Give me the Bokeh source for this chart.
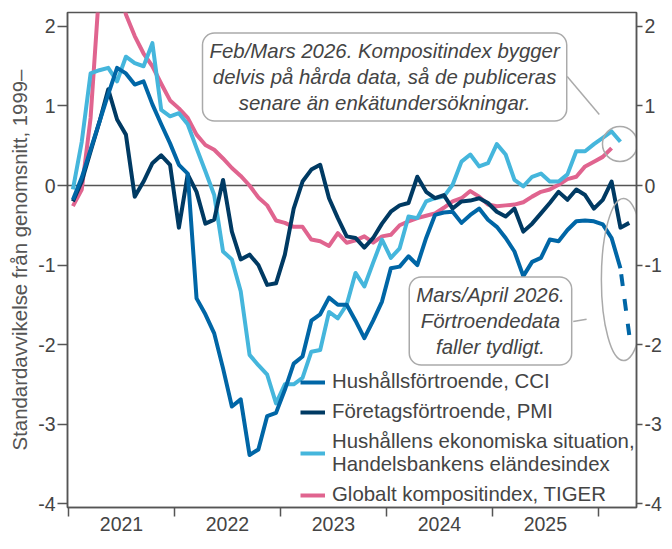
import pandas as pd
from bokeh.plotting import figure
from bokeh.models import (LinearAxis, FixedTicker, Span, Label, Legend,
                          LegendItem, Range1d)
from bokeh.embed import file_html
from bokeh.resources import INLINE

# ---------------- data ----------------
months = pd.date_range("2021-01-01", periods=64, freq="MS")

cci = [-0.18, 0.10, 0.45, 0.80, 1.15, 1.48, 1.41, 1.27, 1.31, 1.02, 0.77, 0.53,
       0.26, 0.15, -1.42, -1.62, -1.86, -2.30, -2.78, -2.69, -3.39, -3.32, -2.90, -2.86,
       -2.57, -2.24, -2.15, -1.70, -1.62, -1.41, -1.50, -1.50, -1.70, -1.92, -1.70, -1.46,
       -1.04, -1.02, -0.89, -1.00, -0.66, -0.37, -0.34, -0.33, -0.47, -0.37, -0.29, -0.43,
       -0.52, -0.66, -0.83, -1.14, -0.96, -0.91, -0.68, -0.70, -0.56, -0.45, -0.44, -0.45,
       -0.49, -0.66, -1.04, -1.88]

pmi = [-0.20, 0.05, 0.43, 0.80, 1.21, 0.83, 0.64, -0.14, 0.05, 0.28, 0.38, 0.26,
       -0.53, 0.14, -0.08, -0.48, -0.43, 0.07, -0.58, -0.93, -0.87, -1.00, -1.25, -1.23,
       -0.87, -0.29, 0.05, 0.20, 0.26, -0.16, -0.41, -0.64, -0.66, -0.78, -0.66, -0.48,
       -0.33, -0.25, -0.22, 0.11, -0.08, -0.16, -0.12, -0.29, -0.20, -0.19, -0.16, -0.22,
       -0.33, -0.39, -0.29, -0.58, -0.48, -0.35, -0.22, -0.08, -0.18, -0.05, -0.12, -0.29,
       -0.18, 0.05, -0.53, -0.47]

hh_misery = [-0.05, 0.55, 1.41, 1.45, 1.48, 1.31, 1.62, 1.54, 1.50, 1.79, 0.95, 0.87,
             0.91, 0.77, 0.47, 0.18, -0.12, -0.83, -0.93, -1.33, -2.13, -2.26, -2.38, -2.74,
             -2.50, -2.50, -2.42, -2.09, -2.07, -1.59, -1.67, -1.50, -1.10, -1.27, -0.97, -0.68,
             -0.91, -0.79, -0.39, -0.41, -0.20, -0.16, -0.14, 0.01, 0.30, 0.39, 0.24, 0.28,
             0.52, 0.39, 0.07, -0.01, 0.11, 0.15, 0.05, 0.05, 0.14, 0.43, 0.43, 0.52,
             0.60, 0.68, 0.55]

tiger = [-0.26, -0.05, 0.85, 2.50, 3.00, 2.70, 2.15, 1.88, 1.66, 1.50, 1.28, 1.07,
         0.97, 0.85, 0.64, 0.51, 0.45, 0.34, 0.22, 0.12, 0.00, -0.15, -0.25, -0.44,
         -0.47, -0.52, -0.52, -0.68, -0.70, -0.76, -0.60, -0.72, -0.69, -0.64, -0.72, -0.64,
         -0.62, -0.50, -0.45, -0.41, -0.38, -0.35, -0.28, -0.20, -0.16, -0.07, -0.14, -0.24,
         -0.26, -0.25, -0.24, -0.21, -0.14, -0.08, -0.05, 0.01, 0.08, 0.11, 0.24, 0.30,
         0.36, 0.47]

series_names = ["Hushållsförtroende, CCI", "Företagsförtroende, PMI",
                "Hushållens ekonomiska situation,\nHandelsbankens eländesindex",
                "Globalt kompositindex, TIGER"]
series_colors = ["#0066a6", "#003a63", "#45b6dc", "#e0648f"]

year_bounds = [2021, 2022, 2023, 2024, 2025, 2026]
year_mids = [2021.5, 2022.5, 2023.5, 2024.5, 2025.5]
year_labels = ["2021", "2022", "2023", "2024", "2025"]
y_ticks = [-4, -3, -2, -1, 0, 1, 2]
y_tick_labels = ["-4", "-3", "-2", "-1", "0", "1", "2"]

x = list(months.year + (months.month - 0.5) / 12.0)

FONT = "Liberation Sans"
TXT = "#444444"
AX = "#555555"
FS = "19.5px"
FS_BIG = "20.4px"

p = figure(width=664, height=533, output_backend="svg", toolbar_location=None,
           x_range=Range1d(2020.9905, 2026.36), y_range=Range1d(-4.05, 2.176),
           min_border_top=12, min_border_left=67, min_border_right=10,
           min_border_bottom=10)
p.grid.visible = False
p.outline_line_color = AX
p.outline_line_width = 1.5
p.background_fill_color = "white"
p.border_fill_color = "white"

# x axis
xa = p.xaxis[0]
xa.ticker = FixedTicker(ticks=year_mids, minor_ticks=year_bounds)
xa.major_label_overrides = {m: l for m, l in zip(year_mids, year_labels)}
xa.major_tick_out = 0
xa.major_tick_in = 0
xa.minor_tick_out = 9
xa.minor_tick_in = 0
xa.minor_tick_line_color = AX
xa.minor_tick_line_width = 1.5
xa.axis_line_color = AX
xa.axis_line_width = 1.5
xa.major_label_standoff = 0
xa.major_label_text_font = FONT
xa.major_label_text_font_size = FS
xa.major_label_text_color = TXT

# y axes
def style_y(ax, tick, standoff):
    ax.ticker = FixedTicker(ticks=y_ticks)
    ax.major_label_overrides = {t: l for t, l in zip(y_ticks, y_tick_labels)}
    ax.major_tick_out = tick
    ax.major_tick_in = 0
    ax.minor_tick_out = 0
    ax.minor_tick_in = 0
    ax.major_tick_line_color = AX
    ax.major_tick_line_width = 1.5
    ax.axis_line_color = AX
    ax.axis_line_width = 1.5
    ax.major_label_standoff = standoff
    ax.major_label_text_font = FONT
    ax.major_label_text_font_size = FS
    ax.major_label_text_color = TXT

ya = p.yaxis[0]
style_y(ya, 10, 2)
ya.axis_label = "Standardavvikelse från genomsnitt, 1999–"
ya.axis_label_text_font = FONT
ya.axis_label_text_font_style = "normal"
ya.axis_label_text_font_size = FS_BIG
ya.axis_label_text_color = "#555555"
ya.axis_label_standoff = 4

yr = LinearAxis()
style_y(yr, 6, 2)
p.add_layout(yr, "right")

# zero line
p.add_layout(Span(location=0, dimension="width", line_color=AX,
                  line_width=1.5, level="underlay"))

# lines
r_tiger = p.line(x[:len(tiger)], tiger, line_color=series_colors[3], line_width=4,
                 line_join="round")
r_hh = p.line(x[:len(hh_misery)], hh_misery, line_color=series_colors[2], line_width=4,
              line_join="round")
r_pmi = p.line(x[:len(pmi)], pmi, line_color=series_colors[1], line_width=4,
               line_join="round")
r_cci = p.line(x[:len(cci) - 1], cci[:-1], line_color=series_colors[0], line_width=4,
               line_join="round")
p.line(x[len(cci) - 2:len(cci)], cci[-2:], line_color=series_colors[0], line_width=4,
       line_dash="12 13", line_dash_offset=-6)

legend = Legend(items=[LegendItem(label=series_names[0], renderers=[r_cci]),
                       LegendItem(label=series_names[1], renderers=[r_pmi]),
                       LegendItem(label=series_names[2], renderers=[r_hh]),
                       LegendItem(label=series_names[3], renderers=[r_tiger])],
                location=(233, 1), glyph_width=25, glyph_height=20,
                label_standoff=7, spacing=7, padding=0, margin=0,
                border_line_alpha=0, background_fill_alpha=0,
                label_text_font=FONT, label_text_font_size=FS_BIG,
                label_text_color=TXT, label_text_line_height=1.12)
p.add_layout(legend)

# annotations
GREY = "#aaaaaa"
p.scatter([2026.204], [0.522], size=35, marker="circle", fill_alpha=0,
          line_color=GREY, line_width=1.5)
p.ellipse([2026.237], [-1.182], width=0.417, height=2.04, fill_alpha=0,
          line_color=GREY, line_width=1.5)
p.line([2025.706, 2026.009], [1.371, 0.893], line_color=GREY, line_width=1.5)
p.line([2025.763, 2025.889], [-1.711, -1.682], line_color=GREY, line_width=1.5)

p.add_layout(Label(x=2023.983, y=1.365,
                   text="Feb/Mars 2026. Kompositindex bygger\ndelvis på hårda data, så de publiceras\nsenare än enkätundersökningar.",
                   text_align="center", text_baseline="middle",
                   text_font=FONT, text_font_style="italic", text_font_size=FS_BIG,
                   text_color=TXT, text_line_height=1.18,
                   background_fill_color="white", border_line_color=GREY,
                   border_line_width=1.5, border_radius=12, padding=7))
p.add_layout(Label(x=2024.982, y=-1.704,
                   text="Mars/April 2026.\nFörtroendedata\nfaller tydligt.",
                   text_align="center", text_baseline="middle",
                   text_font=FONT, text_font_style="italic", text_font_size=FS_BIG,
                   text_color=TXT, text_line_height=1.18,
                   background_fill_color="white", border_line_color=GREY,
                   border_line_width=1.5, border_radius=12, padding=7))

open("out.html", "w").write(file_html(p, INLINE))
